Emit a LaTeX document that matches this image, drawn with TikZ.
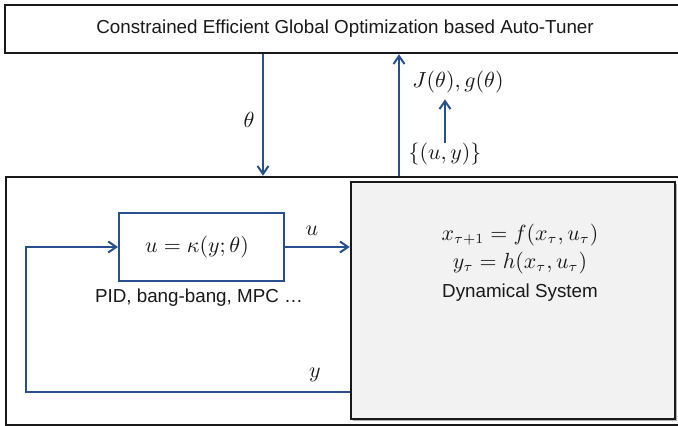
\documentclass[tikz,border=0pt]{standalone}
\usepackage[no-math]{fontspec}
\newfontfamily\arial{Liberation Sans}
\usetikzlibrary{arrows.meta}
\definecolor{lineblue}{RGB}{40,80,140}
\definecolor{sysgray}{RGB}{242,242,242}
\begin{document}
\begin{tikzpicture}[x=0.5pt,y=-0.5pt,
  txt/.style={font=\arial\fontsize{9.4}{11}\selectfont, text=black!90, inner sep=0pt},
  mth/.style={font=\fontsize{10.5}{12}\selectfont, text=black!90, inner sep=0pt},
  blackbox/.style={draw=black!90, line width=1.25pt, fill=white, inner sep=0pt},
  ctrlbox/.style={draw=lineblue, line width=1pt, fill=white, inner sep=0pt},
  sysbox/.style={draw=black!90, line width=1.25pt, fill=sysgray, inner sep=0pt},
  arr/.style={draw=lineblue, line width=1pt, -{Straight Barb[length=4pt,width=5.5pt]}},
  wire/.style={draw=lineblue, line width=1pt},
]
\useasboundingbox (0,0) rectangle (678,426);
\clip (0,0) rectangle (678,426);
% top box
\node[blackbox, minimum width=340pt, minimum height=24pt] (top) at (345,29) {};
\node[txt] (toptxt) at (345,29) {Constrained Efficient Global Optimization based Auto-Tuner};
% outer box
\node[blackbox, minimum width=340pt, minimum height=124pt] (outer) at (346,301) {};
% system box with shadow
\fill[black!30] (353,184) rectangle (677,421);
\node[sysbox, minimum width=162pt, minimum height=118.5pt] (plant) at (513,300.5) {};
\node[mth] (eq1) at (520,235) {$x_{\tau+1} = f(x_\tau,u_\tau)$};
\node[mth] (eq2) at (520,263) {$y_\tau = h(x_\tau,u_\tau)$};
\node[txt] (dyn) at (520,293) {Dynamical System};
% controller
\node[ctrlbox, minimum width=82.5pt, minimum height=34pt] (ctrl) at (201.5,247) {};
\node[mth] (law) at (197,247) {$u = \kappa(y;\theta)$};
\node[txt] (pid) at (199,298) {PID, bang-bang, MPC \dots};
% coordinates
\coordinate (thx) at (263,0);
\coordinate (upx) at (399,0);
\coordinate (fb) at (26,392);
% labels
\node[mth] (thl) at (249,120) {$\theta$};
\node[mth] (jl) at (458,82) {$J(\theta),g(\theta)$};
\node[mth] (uyl) at (445,154) {$\{(u,y)\}$};
\node[mth] (ul) at (312,231) {$u$};
\node[mth] (yl) at (315,375) {$y$};
% connectors
\draw[arr] (top.south -| thx) -- (outer.north -| thx);
\draw[arr] (outer.north -| upx) -- (top.south -| upx);
\draw[arr, shorten >=3pt] (uyl.north) -- (uyl.north |- jl.south);
\draw[arr] (ctrl.east) -- (ctrl.east -| plant.west);
\draw[arr] (plant.west |- fb) -- (fb) |- (ctrl.west);
\end{tikzpicture}
\end{document}
